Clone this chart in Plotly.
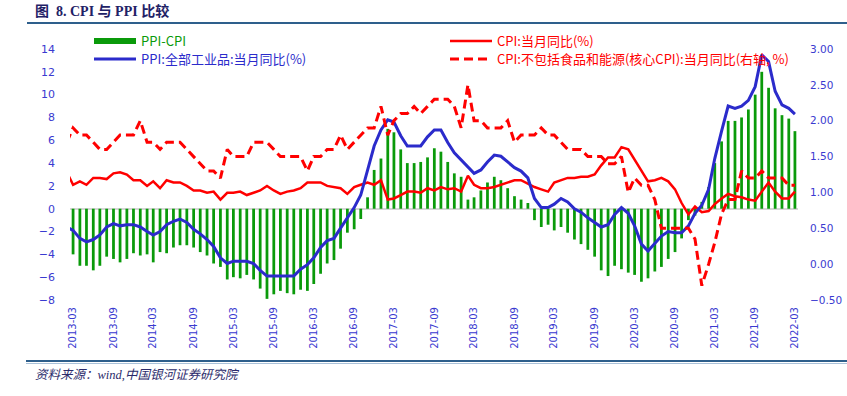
import plotly.graph_objects as go
import pandas as pd

# Monthly categories (first point 2013-02 sits just left of the visible window)
months = pd.date_range("2013-02-01", "2022-03-01", freq="MS").strftime("%Y-%m-%d").tolist()

# PPI - CPI (%)
ppi_cpi = [
    -4.8, -4.0, -5.0, -5.0, -5.4, -5.0, -4.2, -4.4, -4.7, -4.4, -3.9,
    -4.1, -4.0, -4.7, -3.8, -3.9, -3.4, -3.2, -3.2, -3.4, -3.8, -4.1, -4.8,
    -5.1, -6.2, -6.0, -6.1, -5.8, -6.2, -7.0, -7.9, -7.5, -7.2, -7.4, -7.5,
    -7.1, -7.2, -6.6, -5.7, -4.8, -4.5, -3.5, -2.1, -1.8, -0.9, 1.0, 3.4,
    4.4, 7.0, 6.7, 5.2, 4.0, 4.0, 4.1, 4.5, 5.3, 5.0, 4.1, 3.1,
    2.8, 0.8, 1.0, 1.6, 2.3, 2.8, 2.5, 1.8, 1.1, 0.8, 0.5, -1.0,
    -1.6, -1.4, -1.9, -1.6, -2.1, -2.7, -3.1, -3.6, -4.2, -5.4, -5.9, -5.0,
    -5.3, -5.6, -5.8, -6.4, -6.1, -5.5, -5.1, -4.4, -3.8, -2.6, -1.0, -0.6,
    0.6, 1.9, 4.0, 5.9, 7.7, 7.7, 8.0, 8.7, 10.0, 12.0, 10.6, 8.8,
    8.2, 7.9, 6.8,
]

# PPI: all industrial products, YoY (%)
ppi = [
    -1.6, -1.9, -2.6, -2.9, -2.7, -2.3, -1.6, -1.3, -1.5, -1.4, -1.4,
    -1.6, -2.0, -2.3, -2.0, -1.4, -1.1, -0.9, -1.2, -1.8, -2.2, -2.7, -3.3,
    -4.3, -4.8, -4.6, -4.6, -4.6, -4.8, -5.4, -5.9, -5.9, -5.9, -5.9, -5.9,
    -5.3, -4.9, -4.3, -3.4, -2.8, -2.6, -1.7, -0.8, 0.1, 1.2, 3.3, 5.5,
    6.9, 7.8, 7.6, 6.4, 5.5, 5.5, 5.5, 6.3, 6.9, 6.9, 5.8, 4.9,
    4.3, 3.7, 3.1, 3.4, 4.1, 4.7, 4.6, 4.1, 3.6, 3.3, 2.7, 0.9,
    0.1, 0.1, 0.4, 0.9, 0.6, 0.0, -0.3, -0.8, -1.2, -1.6, -1.4, -0.5,
    0.1, -0.4, -1.5, -3.1, -3.7, -3.0, -2.4, -2.0, -2.1, -2.1, -1.5, -0.4,
    0.3, 1.7, 4.4, 6.8, 9.0, 8.8, 9.0, 9.5, 10.7, 13.5, 12.9, 10.3,
    9.1, 8.8, 8.3,
]

# CPI YoY (%)
cpi = [
    3.2, 2.1, 2.4, 2.1, 2.7, 2.7, 2.6, 3.1, 3.2, 3.0, 2.5,
    2.5, 2.0, 2.4, 1.8, 2.5, 2.3, 2.3, 2.0, 1.6, 1.6, 1.4, 1.5,
    0.8, 1.4, 1.4, 1.5, 1.2, 1.4, 1.6, 2.0, 1.6, 1.3, 1.5, 1.6,
    1.8, 2.3, 2.3, 2.3, 2.0, 1.9, 1.8, 1.3, 1.9, 2.1, 2.3, 2.1,
    2.5, 0.8, 0.9, 1.2, 1.5, 1.5, 1.4, 1.8, 1.6, 1.9, 1.7, 1.8,
    1.5, 2.9, 2.1, 1.8, 1.8, 1.9, 2.1, 2.3, 2.5, 2.5, 2.2, 1.9,
    1.7, 1.5, 2.3, 2.5, 2.7, 2.7, 2.8, 2.8, 3.0, 3.8, 4.5, 4.5,
    5.4, 5.2, 4.3, 3.3, 2.4, 2.5, 2.7, 2.4, 1.7, 0.5, -0.5, 0.2,
    -0.3, -0.2, 0.4, 0.9, 1.3, 1.1, 1.0, 0.8, 0.7, 1.5, 2.3, 1.5,
    0.9, 0.9, 1.5,
]

# Core CPI (ex food & energy) YoY (%), right axis
core_cpi = [
    1.7, 1.9, 1.8, 1.8, 1.7, 1.6, 1.6, 1.7, 1.8, 1.8, 1.8,
    2.0, 1.7, 1.7, 1.6, 1.7, 1.7, 1.7, 1.6, 1.5, 1.4, 1.3, 1.3,
    1.2, 1.6, 1.5, 1.5, 1.5, 1.7, 1.7, 1.7, 1.6, 1.5, 1.5, 1.5,
    1.5, 1.3, 1.5, 1.5, 1.6, 1.6, 1.8, 1.6, 1.7, 1.8, 1.9, 1.9,
    2.2, 1.8, 2.0, 2.1, 2.1, 2.2, 2.1, 2.2, 2.3, 2.3, 2.3, 2.2,
    1.9, 2.5, 2.0, 2.0, 1.9, 1.9, 1.9, 2.0, 1.7, 1.8, 1.8, 1.8,
    1.9, 1.8, 1.8, 1.7, 1.6, 1.6, 1.6, 1.5, 1.5, 1.5, 1.4, 1.4,
    1.5, 1.0, 1.2, 1.1, 1.1, 0.9, 0.5, 0.5, 0.5, 0.5, 0.5, 0.35,
    -0.3, 0.0, 0.3, 0.7, 0.9, 0.9, 1.3, 1.2, 1.2, 1.3, 1.2, 1.2,
    1.2, 1.1, 1.1,
]

tick_dates = [
    "2013-03-01", "2013-09-01", "2014-03-01", "2014-09-01", "2015-03-01",
    "2015-09-01", "2016-03-01", "2016-09-01", "2017-03-01", "2017-09-01",
    "2018-03-01", "2018-09-01", "2019-03-01", "2019-09-01", "2020-03-01",
    "2020-09-01", "2021-03-01", "2021-09-01", "2022-03-01",
]
tick_labels = [d[:7] for d in tick_dates]

series_names = [
    "PPI-CPI",
    "CPI:当月同比(%)",
    "PPI:全部工业品:当月同比(%)",
    "CPI:不包括食品和能源(核心CPI):当月同比(右轴, %)",
]

GREEN = "#0a9a0a"
BLUE = "#2b2bcb"
RED = "#ff0000"
TICK_BLUE = "#3a3ad0"
NAVY = "#1f2266"
RULE = "#2e5f8c"

LEG_FONT = "Noto Sans CJK SC, DejaVu Sans, sans-serif"
TICK_FONT = "DejaVu Sans, Verdana, sans-serif"

# plot area in pixels
PL, PR, PT, PB = 70, 798, 49, 300
PW, PH = PR - PL, PB - PT


def px_x(x):
    return (x - PL) / PW


def px_y(y):
    return (PB - y) / PH


fig = go.Figure()

fig.add_trace(go.Bar(
    x=months, y=ppi_cpi, marker=dict(color=GREEN, line=dict(width=0)),
    name=series_names[0],
))
fig.add_trace(go.Scatter(
    x=months, y=cpi, mode="lines", line=dict(color=RED, width=2.5),
    name=series_names[1],
))
fig.add_trace(go.Scatter(
    x=months, y=ppi, mode="lines", line=dict(color=BLUE, width=3),
    name=series_names[2],
))
fig.add_trace(go.Scatter(
    x=months, y=core_cpi, mode="lines", yaxis="y2",
    line=dict(color=RED, width=3, dash="9px,5px"),
    name=series_names[3],
))

# legend: symbol strokes + coloured labels, two columns
legend_items = [
    (series_names[0], GREEN, 6, "solid", 94, 41),
    (series_names[1], RED, 2.5, "solid", 450, 41),
    (series_names[2], BLUE, 3, "solid", 94, 59),
    (series_names[3], RED, 3, "9px,5px", 450, 59),
]
shapes = []
annotations = []
for name, color, width, dash, sx, sy in legend_items:
    shapes.append(dict(
        type="line", xref="paper", yref="paper",
        x0=px_x(sx), x1=px_x(sx + 42), y0=px_y(sy), y1=px_y(sy),
        line=dict(color=color, width=width, dash=dash),
    ))
    annotations.append(dict(
        text=name, xref="paper", yref="paper",
        x=px_x(sx + 45), xanchor="left", y=px_y(sy - 0.5), yanchor="middle",
        showarrow=False, font=dict(family=LEG_FONT, size=13, color=color),
    ))

shapes += [
    dict(type="line", xref="paper", yref="paper",
         x0=px_x(27), x1=px_x(847), y0=px_y(23), y1=px_y(23),
         line=dict(color=RULE, width=2)),
    dict(type="line", xref="paper", yref="paper",
         x0=px_x(26), x1=px_x(847), y0=px_y(361), y1=px_y(361),
         line=dict(color=RULE, width=2)),
    dict(type="line", xref="paper", yref="paper",
         x0=px_x(26), x1=px_x(847), y0=px_y(363.5), y1=px_y(363.5),
         line=dict(color="#a9c1d9", width=1)),
]
annotations.append(dict(
    text="<i>资料来源：wind,中国银河证券研究院</i>",
    xref="paper", yref="paper",
    x=px_x(33), xanchor="left", y=px_y(375), yanchor="middle",
    showarrow=False,
    font=dict(family="Liberation Serif, Noto Sans CJK SC, serif", size=12.5, color="#2b2b6b"),
))

fig.update_layout(
    width=847, height=396,
    margin=dict(l=PL, r=847 - PR, t=PT, b=396 - PB, autoexpand=False),
    paper_bgcolor="white", plot_bgcolor="white",
    bargap=0.55,
    showlegend=False,
    title=dict(
        text="<b>图&nbsp;&nbsp;8. CPI 与 PPI 比较</b>",
        x=35 / 847, xref="container", xanchor="left",
        y=1 - 11 / 396, yref="container", yanchor="middle",
        font=dict(family="Liberation Serif, Noto Sans CJK SC, serif", size=14, color=NAVY),
    ),
    xaxis=dict(
        type="date", range=["2013-02-15", "2022-03-15"], automargin=False,
        tickmode="array", tickvals=tick_dates, ticktext=tick_labels,
        tickangle=-90, showgrid=False, showline=False, zeroline=False, ticks="",
        ticklabelstandoff=4,
        tickfont=dict(family=TICK_FONT, size=10, color=TICK_BLUE),
    ),
    yaxis=dict(
        range=[-8, 14], tickmode="linear", tick0=0, dtick=2, automargin=False,
        showgrid=False, showline=False, ticks="",
        zeroline=True, zerolinecolor="#d6d6d6", zerolinewidth=2,
        ticklabelstandoff=14,
        tickfont=dict(family=TICK_FONT, size=11, color=TICK_BLUE),
    ),
    yaxis2=dict(
        overlaying="y", side="right", range=[-0.5, 3.0], automargin=False,
        tickmode="linear", tick0=0, dtick=0.5, tickformat=".2f",
        showgrid=False, showline=False, zeroline=False, ticks="",
        ticklabelstandoff=11,
        tickfont=dict(family=TICK_FONT, size=10.5, color=TICK_BLUE),
    ),
    shapes=shapes,
    annotations=annotations,
)

fig.write_html(
    "out.html",
    config={"displayModeBar": False},
    post_script="document.body.style.margin='0';",
)
